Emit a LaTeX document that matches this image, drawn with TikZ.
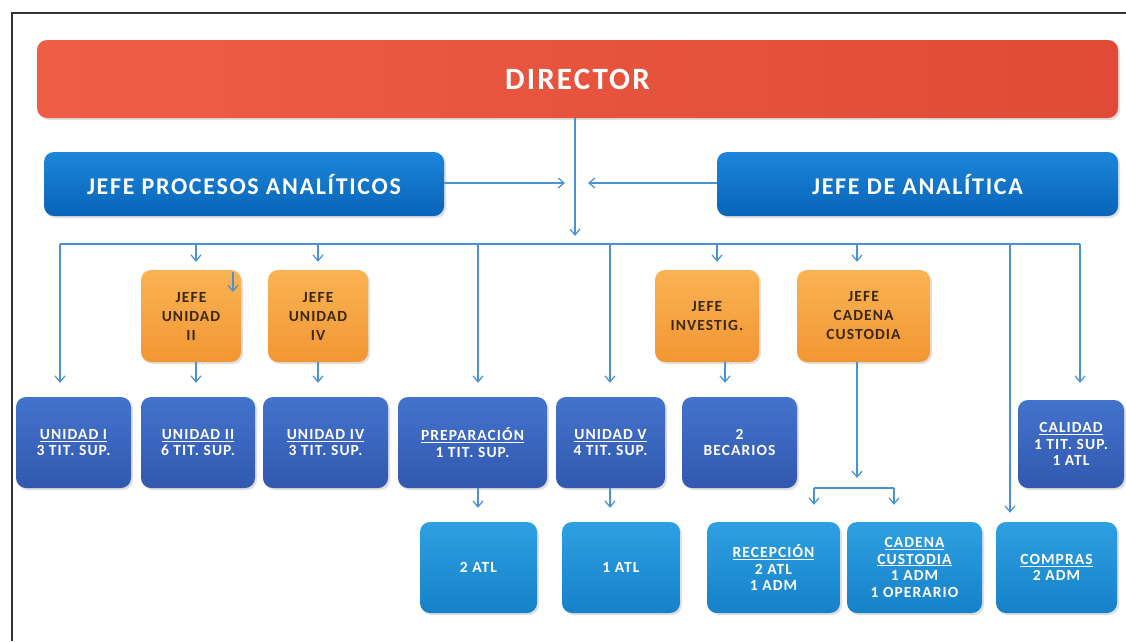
\documentclass[tikz,border=0pt]{standalone}
\usepackage{fontspec}
\setmainfont{Carlito}[LetterSpace=7]
\usetikzlibrary{arrows.meta,shadows}
\definecolor{redA}{HTML}{EE5E46}
\definecolor{redB}{HTML}{E04A36}
\definecolor{topA}{HTML}{1C86DA}
\definecolor{topB}{HTML}{0864B8}
\definecolor{orA}{HTML}{FAB354}
\definecolor{orB}{HTML}{F29632}
\definecolor{dkA}{HTML}{4373CC}
\definecolor{dkB}{HTML}{3258B0}
\definecolor{ltA}{HTML}{2EA0E2}
\definecolor{ltB}{HTML}{1681C8}
\definecolor{conn}{HTML}{4A92D4}
\definecolor{ortext}{HTML}{3A2810}
\tikzset{
  box/.style={rounded corners=10pt, align=center, inner sep=0pt, font=\bfseries,
    drop shadow={opacity=0.25, shadow xshift=2pt, shadow yshift=-2pt}},
  dirbox/.style={box, left color=redA, right color=redB, text=white, font=\fontsize{31}{36}\selectfont\bfseries},
  topbox/.style={box, top color=topA, bottom color=topB, text=white, font=\fontsize{24}{28}\selectfont\bfseries},
  orbox/.style={box, top color=orA, bottom color=orB, text=ortext, font=\fontsize{15.5}{19}\selectfont\bfseries},
  dkbox/.style={box, top color=dkA, bottom color=dkB, text=white, font=\fontsize{15.5}{16.5}\selectfont\bfseries},
  ltbox/.style={box, top color=ltA, bottom color=ltB, text=white, font=\fontsize{15.5}{16.8}\selectfont\bfseries},
  link/.style={draw=conn, line width=1.3pt},
  arr/.style={link, -{Straight Barb[length=6pt,width=10pt,line width=1.2pt]}},
}
\begin{document}
\begin{tikzpicture}[x=1pt,y=-1pt]
\useasboundingbox (0,0) rectangle (1126,641);
\fill[white] (0,0) rectangle (1126,641);
% scan frame
\draw[black!80, line width=1.2pt] (12,641) -- (12,13) -- (1126,13);

% boxes
\node[dirbox, minimum width=1081pt, minimum height=78pt] (dir) at (577.5,79) {DIRECTOR};
\node[topbox, minimum width=400pt, minimum height=64pt] (jpa) at (244,184) {JEFE PROCESOS ANALÍTICOS};
\node[topbox, minimum width=401pt, minimum height=64pt] (jda) at (917.5,184) {JEFE DE ANALÍTICA};

\node[orbox, minimum width=100pt, minimum height=92pt] (ju2) at (191,316) {JEFE\\UNIDAD\\II};
\node[orbox, minimum width=100pt, minimum height=92pt] (ju4) at (318,316) {JEFE\\UNIDAD\\IV};
\node[orbox, minimum width=104pt, minimum height=92pt] (jinv) at (707,316) {JEFE\\INVESTIG.};
\node[orbox, minimum width=133pt, minimum height=92pt] (jcc) at (863.5,316) {JEFE\\CADENA\\CUSTODIA};

\node[dkbox, minimum width=115pt, minimum height=91pt] (u1) at (73.5,442.5) {\underline{UNIDAD I}\\3 TIT. SUP.};
\node[dkbox, minimum width=114pt, minimum height=91pt] (u2) at (198,442.5) {\underline{UNIDAD II}\\6 TIT. SUP.};
\node[dkbox, minimum width=125pt, minimum height=91pt] (u4) at (325.5,442.5) {\underline{UNIDAD IV}\\3 TIT. SUP.};
\node[dkbox, minimum width=149pt, minimum height=91pt] (prep) at (472.5,442.5) {\underline{PREPARACIÓN}\\1 TIT. SUP.};
\node[dkbox, minimum width=109pt, minimum height=91pt] (u5) at (610.5,442.5) {\underline{UNIDAD V}\\4 TIT. SUP.};
\node[dkbox, minimum width=115pt, minimum height=91pt] (bec) at (739.5,442.5) {2\\BECARIOS};
\node[dkbox, minimum width=106pt, minimum height=88pt] (cal) at (1071,444) {\underline{CALIDAD}\\1 TIT. SUP.\\1 ATL};

\node[ltbox, minimum width=117pt, minimum height=91pt] (a2) at (478.5,567.5) {2 ATL};
\node[ltbox, minimum width=118pt, minimum height=91pt] (a1) at (621,567.5) {1 ATL};
\node[ltbox, minimum width=133pt, minimum height=91pt] (rec) at (773.5,567.5) {\underline{RECEPCIÓN}\\2 ATL\\1 ADM};
\node[ltbox, minimum width=135pt, minimum height=91pt] (cad) at (914.5,567.5) {\underline{CADENA}\\\underline{CUSTODIA}\\1 ADM\\1 OPERARIO};
\node[ltbox, minimum width=121pt, minimum height=91pt] (comp) at (1056.5,567.5) {\underline{COMPRAS}\\2 ADM};

% connector coordinates
\coordinate (dv) at (575,244);
\coordinate (bL) at (60,244);
\coordinate (bR) at (1080,244);
\coordinate (tpa) at (565,183);
\coordinate (tda) at (588,183);
\coordinate (b2) at (196,244);
\coordinate (b4) at (318,244);
\coordinate (bp) at (478,244);
\coordinate (b5) at (610,244);
\coordinate (bi) at (717,244);
\coordinate (bc) at (857,244);
\coordinate (bk) at (1010,244);
\coordinate (art) at (233,272);
\coordinate (cc) at (857,478);
\coordinate (brL) at (814,488);
\coordinate (brR) at (894,488);

% director and chiefs
\draw[arr, shorten >=8pt] (dir.south -| dv) -- (dv);
\draw[arr] (jpa.east |- tpa) -- (tpa);
\draw[arr] (jda.west |- tda) -- (tda);
% bus
\draw[link] (bL) -- (bR);
% drops from bus
\draw[arr, shorten >=14pt] (bL) -- (bL |- u1.north);
\draw[arr, shorten >=8pt] (b2) -- (b2 |- ju2.north);
\draw[arr, shorten >=8pt] (b4) -- (b4 |- ju4.north);
\draw[arr, shorten >=14pt] (bp) -- (bp |- prep.north);
\draw[arr, shorten >=14pt] (b5) -- (b5 |- u5.north);
\draw[arr, shorten >=8pt] (bi) -- (bi |- jinv.north);
\draw[arr, shorten >=8pt] (bc) -- (bc |- jcc.north);
\draw[arr, shorten >=9pt] (bk) -- (bk |- comp.north);
\draw[arr, shorten >=17pt] (bR) -- (bR |- cal.north);
\draw[arr] (art) -- ++(0,20);
% chiefs to units
\draw[arr, shorten >=14pt] (b2 |- ju2.south) -- (b2 |- u2.north);
\draw[arr, shorten >=14pt] (b4 |- ju4.south) -- (b4 |- u4.north);
\draw[arr, shorten >=14pt] (725,362) coordinate (ji) -- (ji |- bec.north);
% units to bottom row
\draw[arr, shorten >=14pt] (bp |- prep.south) -- (bp |- a2.north);
\draw[arr, shorten >=14pt] (b5 |- u5.south) -- (b5 |- a1.north);
% cadena custodia split
\draw[arr] (bc |- jcc.south) -- (cc);
\draw[link] (brL) -- (brR);
\draw[arr, shorten >=17pt] (brL) -- (brL |- rec.north);
\draw[arr, shorten >=17pt] (brR) -- (brR |- cad.north);
\end{tikzpicture}
\end{document}
